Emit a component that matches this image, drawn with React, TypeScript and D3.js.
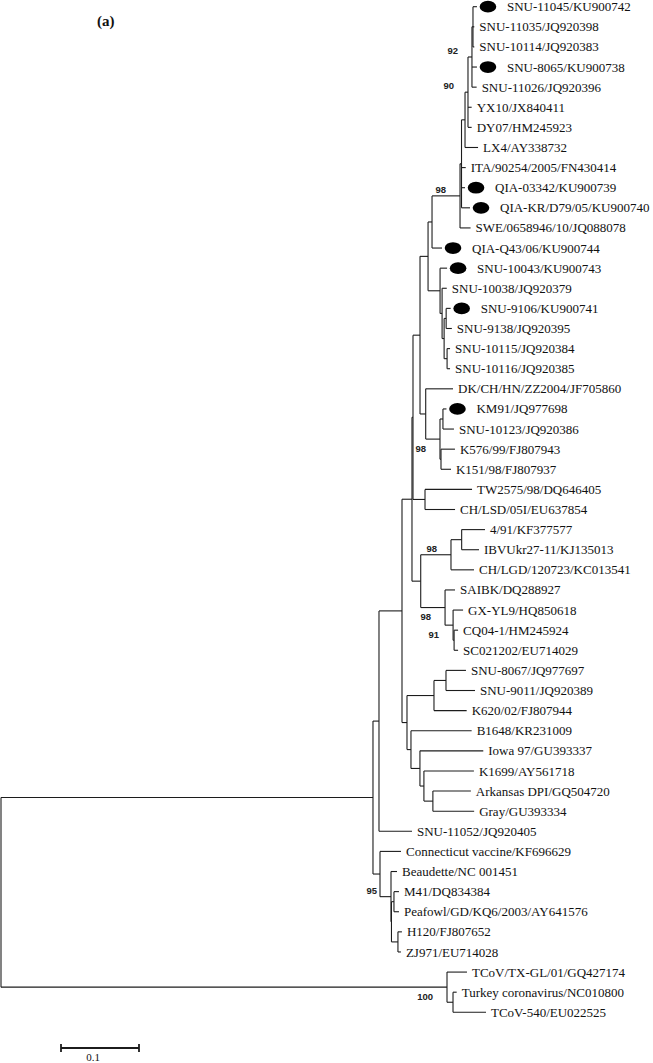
import React from 'react';
import * as d3 from 'd3';

// ---------- DATA ----------
// Leaves in display order (top to bottom)
const leafNames = [
  'SNU-11045/KU900742', 'SNU-11035/JQ920398', 'SNU-10114/JQ920383', 'SNU-8065/KU900738',
  'SNU-11026/JQ920396', 'YX10/JX840411', 'DY07/HM245923', 'LX4/AY338732',
  'ITA/90254/2005/FN430414', 'QIA-03342/KU900739', 'QIA-KR/D79/05/KU900740',
  'SWE/0658946/10/JQ088078', 'QIA-Q43/06/KU900744', 'SNU-10043/KU900743',
  'SNU-10038/JQ920379', 'SNU-9106/KU900741', 'SNU-9138/JQ920395', 'SNU-10115/JQ920384',
  'SNU-10116/JQ920385', 'DK/CH/HN/ZZ2004/JF705860', 'KM91/JQ977698', 'SNU-10123/JQ920386',
  'K576/99/FJ807943', 'K151/98/FJ807937', 'TW2575/98/DQ646405', 'CH/LSD/05I/EU637854',
  '4/91/KF377577', 'IBVUkr27-11/KJ135013', 'CH/LGD/120723/KC013541', 'SAIBK/DQ288927',
  'GX-YL9/HQ850618', 'CQ04-1/HM245924', 'SC021202/EU714029', 'SNU-8067/JQ977697',
  'SNU-9011/JQ920389', 'K620/02/FJ807944', 'B1648/KR231009', 'Iowa 97/GU393337',
  'K1699/AY561718', 'Arkansas DPI/GQ504720', 'Gray/GU393334', 'SNU-11052/JQ920405',
  'Connecticut vaccine/KF696629', 'Beaudette/NC 001451', 'M41/DQ834384',
  'Peafowl/GD/KQ6/2003/AY641576', 'H120/FJ807652', 'ZJ971/EU714028',
  'TCoV/TX-GL/01/GQ427174', 'Turkey coronavirus/NC010800', 'TCoV-540/EU022525',
];
const leafParents = [
  'T1', 'T1', 'T1', 'T', 'T', 'U', 'U', 'V', 'S', 'S', 'S', 'Q', 'P', 'W', 'W2', 'X1', 'X1',
  'X2', 'X2', 'AA', 'AC', 'AC', 'AE', 'AE', 'TWCH', 'TWCH', 'AJ', 'AJ', 'AI', 'AK', 'AL',
  'AM', 'AM', 'I', 'I', 'H', 'J', 'K', 'L', 'M', 'M', 'B', 'C', 'D', 'DM', 'DM', 'DH', 'DH',
  'TCoV', 'AN', 'AN',
];
const leafLengths = [
  0.0051, 0.0017, 0.0017, 0.0064, 0.0060, 0.0047, 0.0047, 0.0167, 0.0054, 0.0045, 0.0109,
  0.0135, 0.0128, 0.0090, 0.0060, 0.0058, 0.0073, 0.0038, 0.0038, 0.0350, 0.0045, 0.0141,
  0.0179, 0.0128, 0.0603, 0.0385, 0.0299, 0.0222, 0.0295, 0.0128, 0.0128, 0.0051, 0.0051,
  0.0256, 0.0372, 0.0419, 0.0778, 0.0812, 0.0641, 0.0487, 0.0529, 0.0423, 0.0269, 0.0077,
  0.0064, 0.0064, 0.0051, 0.0038, 0.0256, 0.0047, 0.0423,
];
const markedLeaves = [
  'SNU-11045/KU900742', 'SNU-8065/KU900738', 'QIA-03342/KU900739', 'QIA-KR/D79/05/KU900740',
  'QIA-Q43/06/KU900744', 'SNU-10043/KU900743', 'SNU-9106/KU900741', 'KM91/JQ977698',
];

// Internal nodes
const internalIds = [
  'root', 'IBV', 'B', 'E', 'AG', 'AH', 'Z', 'Y', 'P', 'Q', 'S', 'V', 'U', 'T', 'T1', 'W', 'W2',
  'X', 'X1', 'X2', 'AA', 'AB', 'AC', 'AE', 'TWCH', 'N', 'AI', 'AJ', 'AK', 'AL', 'AM', 'F', 'H',
  'I', 'J', 'K', 'L', 'M', 'C', 'D', 'DD', 'DM', 'DH', 'TCoV', 'AN',
];
const internalParents = [
  '', 'root', 'IBV', 'B', 'E', 'AG', 'AH', 'Z', 'Y', 'P', 'Q', 'S', 'V', 'U', 'T', 'Y', 'W',
  'W2', 'X', 'X', 'Z', 'AA', 'AB', 'AB', 'AH', 'AG', 'N', 'AI', 'N', 'AK', 'AL', 'E', 'F',
  'H', 'F', 'J', 'K', 'L', 'IBV', 'C', 'D', 'DD', 'DD', 'root', 'TCoV',
];
const internalLengths = [
  0, 0.4769, 0.0077, 0.0295, 0.0128, 0.0013, 0.0090, 0.0103, 0.0051, 0.0359, 0.0019, 0.0045,
  0.0038, 0.0051, 0.0013, 0.0154, 0.0026, 0.0026, 0.0026, 0.0038, 0.0073, 0.0183, 0.0038,
  0.0013, 0.0154, 0.0112, 0.0388, 0.0137, 0.0312, 0.0103, 0.0013, 0.0064, 0.0346, 0.0154,
  0.0051, 0.0115, 0.0051, 0.0115, 0.0090, 0.0141, 0.0006, 0.0032, 0.0083, 0.5718, 0.0077,
];

// Bootstrap support
const bootstrapNodes = ['T', 'U', 'Q', 'AB', 'AI', 'AK', 'AL', 'D', 'TCoV'];
const bootstrapValues = ['92', '90', '98', '98', '98', '98', '91', '95', '100'];
const bootstrapBelow = [false, false, false, true, false, true, true, false, true];

const panelLabel = '(a)';
const scaleBarValue = 0.1;
const scaleBarText = '0.1';

// ---------- COMPONENT ----------
type Row = { id: string; parent: string; length: number; leaf: boolean };

export default function App() {
  const W = 653;
  const H = 1063;

  const rows: Row[] = [
    ...internalIds.map((id, i) => ({ id, parent: internalParents[i], length: internalLengths[i], leaf: false })),
    ...leafNames.map((id, i) => ({ id, parent: leafParents[i], length: leafLengths[i], leaf: true })),
  ];

  const root = d3
    .stratify<Row>()
    .id((d) => d.id)
    .parentId((d) => (d.parent === '' ? null : d.parent))(rows);

  const xScale = d3.scaleLinear().domain([0, 0.1]).range([1, 79]);
  const yScale = d3.scaleLinear().domain([0, leafNames.length - 1]).range([6.7, 1012.3]);

  const dist = new Map<string, number>();
  root.eachBefore((n: any) => {
    const p = n.parent ? dist.get(n.parent.id)! : 0;
    dist.set(n.id, p + n.data.length);
  });
  const yPos = new Map<string, number>();
  root.eachAfter((n: any) => {
    if (n.data.leaf) {
      yPos.set(n.id, yScale(leafNames.indexOf(n.id)));
    } else {
      const ys = n.children.map((c: any) => yPos.get(c.id)!);
      yPos.set(n.id, (d3.min(ys)! + d3.max(ys)!) / 2);
    }
  });

  const nodes = root.descendants() as any[];
  const X = (id: string) => xScale(dist.get(id)!);
  const Y = (id: string) => yPos.get(id)!;

  const stroke = '#1c1c1c';
  const sw = 1.1;

  const barX0 = 61;
  const barX1 = barX0 + (xScale(scaleBarValue) - xScale(0));
  const barY = 1048;

  return (
    <svg
      width={W}
      height={H}
      style={{ position: 'absolute', left: 0, top: 0, background: '#fff' }}
    >
      <rect x={0} y={0} width={W} height={H} fill="#fff" />
      <text x={97} y={26} fontFamily="Liberation Serif" fontWeight="bold" fontSize={15} fill="#111">
        {panelLabel}
      </text>
      <g fill="none" stroke={stroke} strokeWidth={sw}>
        {nodes
          .filter((n) => n.parent)
          .map((n) => (
            <line key={'h' + n.id} x1={X(n.parent.id)} x2={X(n.id)} y1={Y(n.id)} y2={Y(n.id)} />
          ))}
        {nodes
          .filter((n) => n.children)
          .map((n) => {
            const ys = n.children.map((c: any) => Y(c.id));
            return (
              <line key={'v' + n.id} x1={X(n.id)} x2={X(n.id)} y1={d3.min(ys)} y2={d3.max(ys)} />
            );
          })}
      </g>
      <g>
        {leafNames.map((name) => {
          const x = X(name);
          const y = Y(name);
          const marked = markedLeaves.includes(name);
          return (
            <g key={'l' + name}>
              {marked && <ellipse cx={x + 11} cy={y} rx={8.3} ry={5.9} fill="#000" />}
              <text
                x={x + (marked ? 30 : 5)}
                y={y}
                dy="0.35em"
                fontFamily="Liberation Serif"
                fontSize={13}
                fill="#111"
              >
                {name}
              </text>
            </g>
          );
        })}
      </g>
      <g>
        {bootstrapNodes.map((id, i) => (
          <text
            key={'b' + i}
            x={X(id) - 14}
            y={Y(id) + (bootstrapBelow[i] ? 12.5 : -3)}
            textAnchor="end"
            fontFamily="Liberation Sans"
            fontWeight="bold"
            fontSize={9.5}
            fill="#222"
          >
            {bootstrapValues[i]}
          </text>
        ))}
      </g>
      <g stroke={stroke} strokeWidth={1.8}>
        <line x1={barX0} x2={barX1} y1={barY} y2={barY} />
        <line x1={barX0} x2={barX0} y1={barY - 4} y2={barY + 4} />
        <line x1={barX1} x2={barX1} y1={barY - 4} y2={barY + 4} />
      </g>
      <text
        x={(barX0 + barX1) / 2 - 7}
        y={1061}
        textAnchor="middle"
        fontFamily="Liberation Serif"
        fontSize={11}
        fill="#111"
      >
        {scaleBarText}
      </text>
    </svg>
  );
}
